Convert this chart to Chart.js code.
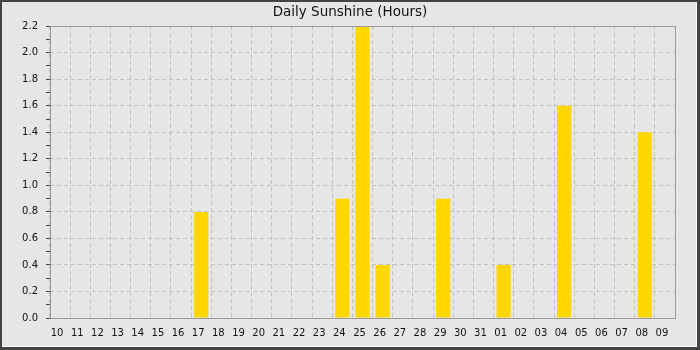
<!DOCTYPE html>
<html lang="en">
<head>
  <meta charset="UTF-8">
  <title>Daily Sunshine (Hours)</title>
  <script src="https://cdn.jsdelivr.net/npm/chart.js"></script>
<style>
  html, body { margin: 0; padding: 0; background: #e6e6e6; }
  .chart-box { position: relative; width: 700px; height: 350px; }
</style>
</head>
<body>
  <div class="chart-box">
    <canvas id="chart"></canvas>
  </div>
  <script>
    // days shown on the x axis (end of one month, start of the next)
    var days = ["10", "11", "12", "13", "14", "15", "16", "17", "18", "19", "20",
                "21", "22", "23", "24", "25", "26", "27", "28", "29", "30", "31",
                "01", "02", "03", "04", "05", "06", "07", "08", "09"];
    // hours of sunshine per day
    var sunshine = [0, 0, 0, 0, 0, 0, 0, 0.8, 0, 0, 0,
                    0, 0, 0, 0.9, 2.2, 0.4, 0, 0, 0.9, 0, 0,
                    0.4, 0, 0, 1.6, 0, 0, 0, 1.4, 0];
    var yMin = 0;
    var yMax = 2.2;
    var yStep = 0.1;

    var bgColor = "#e6e6e6";
    var gridColor = "#c0c0c0";
    var frameColor = "#999999";

    function isMajor(v) {
      return Math.round(v * 10) % 2 === 0;
    }

    // outer frame and background
    var backdrop = {
      id: "backdrop",
      beforeDraw: function(chart) {
        var ctx = chart.ctx;
        ctx.save();
        ctx.fillStyle = "#444444";
        ctx.fillRect(0, 0, 700, 350);
        ctx.fillStyle = "#ffffff";
        ctx.fillRect(2, 2, 695, 345);
        ctx.fillStyle = bgColor;
        ctx.fillRect(2, 2, 694, 344);
        ctx.restore();
      },
      afterDatasetsDraw: function(chart) {
        var a = chart.chartArea;
        var ctx = chart.ctx;
        ctx.save();
        ctx.strokeStyle = frameColor;
        ctx.lineWidth = 1;
        ctx.strokeRect(Math.round(a.left) + 0.5, Math.round(a.top) + 0.5,
                       Math.round(a.right - a.left), Math.round(a.bottom - a.top));
        ctx.restore();
      }
    };

    var ctx = document.getElementById("chart").getContext("2d");
    var chart = new Chart(ctx, {
      type: "bar",
      data: {
        labels: days,
        datasets: [{
          label: "Sunshine",
          data: sunshine,
          backgroundColor: "#ffd700",
          borderWidth: 0,
          barPercentage: 0.7,
          categoryPercentage: 1.0
        }]
      },
      options: {
        responsive: true,
        maintainAspectRatio: false,
        animation: false,
        layout: {
          padding: 0
        },
        plugins: {
          legend: { display: false },
          tooltip: { enabled: false },
          title: {
            display: true,
            text: "Daily Sunshine (Hours)",
            color: "#111111",
            font: { family: "DejaVu Sans", size: 13.5, weight: "normal", lineHeight: 1.2 },
            padding: { top: 4, bottom: 6 }
          }
        },
        scales: {
          x: {
            afterFit: function(scale) { scale.height = 32; },
            grid: {
              color: gridColor,
              drawTicks: false,
              offset: true
            },
            border: { display: false, dash: [4, 3] },
            ticks: {
              color: "#111111",
              font: { family: "DejaVu Sans", size: 10 },
              padding: 9,
              labelOffset: -3,
              maxRotation: 0,
              autoSkip: false
            }
          },
          y: {
            min: yMin,
            max: yMax,
            afterFit: function(scale) { scale.width = 50; },
            grid: {
              color: function(c) {
                return c.tick && isMajor(c.tick.value) ? gridColor : "rgba(0,0,0,0)";
              },
              tickColor: "#444444",
              tickLength: 4
            },
            border: { display: false, dash: [4, 3] },
            ticks: {
              stepSize: yStep,
              autoSkip: false,
              color: "#111111",
              font: { family: "DejaVu Sans", size: 10 },
              padding: 8,
              callback: function(v) {
                return isMajor(v) ? (Math.round(v * 10) / 10).toFixed(1) : "";
              }
            }
          },
          // empty right-hand axis, only keeps the right margin
          yRight: {
            position: "right",
            display: true,
            afterFit: function(scale) { scale.width = 25; },
            grid: { display: false, drawTicks: false },
            border: { display: false },
            ticks: { display: false }
          }
        }
      },
      plugins: [backdrop]
    });
  </script>
</body>
</html>
